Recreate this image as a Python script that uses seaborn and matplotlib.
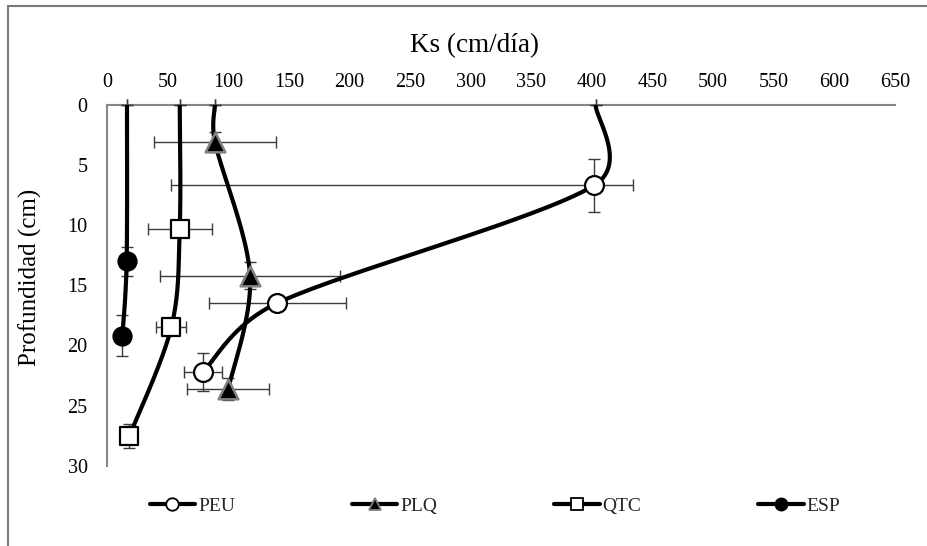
import numpy as np
import matplotlib
matplotlib.use("Agg")
import matplotlib.pyplot as plt
from matplotlib.lines import Line2D
from matplotlib.patches import Rectangle
import seaborn as sns
import pandas as pd

# Saturated hydraulic conductivity profiles (Ks, cm/day) by depth (cm)
peu_depth = [0.0, 6.7, 16.5, 22.2]
peu_ks = [403.0, 402.0, 140.0, 79.0]
peu_ks_err_lo = [0.0, 349.0, 56.0, 15.5]
peu_ks_err_hi = [0.0, 32.0, 57.0, 15.5]
peu_depth_err = [0.0, 2.2, 0.0, 1.6]

plq_depth = [0.0, 3.1, 14.2, 23.6]
plq_ks = [89.0, 89.0, 118.0, 100.0]
plq_ks_err = [0.0, 50.5, 74.5, 34.0]
plq_depth_err = [0.0, 0.85, 1.15, 0.9]

qtc_depth = [0.0, 10.3, 18.5, 27.5]
qtc_ks = [60.0, 60.0, 53.0, 18.5]
qtc_ks_err = [0.0, 26.5, 12.5, 0.0]
qtc_depth_err = [0.0, 0.0, 0.0, 1.0]

esp_depth = [0.0, 13.0, 19.2]
esp_ks = [16.5, 16.2, 12.7]
esp_ks_err = [0.0, 0.0, 0.0]
esp_depth_err = [0.0, 1.2, 1.7]

x_ticks = list(range(0, 651, 50))
y_ticks = list(range(0, 31, 5))

sns.set_theme(style="white")
plt.rcParams["font.family"] = ["Liberation Serif", "DejaVu Serif"]

fig = plt.figure(figsize=(9.27, 5.46), dpi=100)
ax = fig.add_axes([107 / 927, 1 - 466 / 546, 788 / 927, 361.5 / 546])

# pixel-per-unit factors so the smoothing works in screen space
SX = 788 / 650
SY = 361.5 / 30


def smooth(xs, ys, n=60):
    """Cubic Bezier smoothing: handles (P[i+1]-P[i-1])/6, capped at half the segment."""
    P = np.column_stack([np.asarray(xs) * SX, np.asarray(ys) * SY])
    m = len(P)
    out = []
    t = np.linspace(0, 1, n)[:, None]
    for i in range(m - 1):
        p0 = P[max(i - 1, 0)]
        p1, p2 = P[i], P[i + 1]
        p3 = P[min(i + 2, m - 1)]
        half = np.linalg.norm(p2 - p1) / 2
        h1 = (p2 - p0) / 6
        h2 = (p3 - p1) / 6
        for h in (h1, h2):
            L = np.linalg.norm(h)
            if L > half:
                h *= half / L
        c1 = p1 + h1
        c2 = p2 - h2
        seg = ((1 - t) ** 3) * p1 + 3 * ((1 - t) ** 2) * t * c1 + 3 * (1 - t) * t ** 2 * c2 + t ** 3 * p2
        out.append(seg if i == 0 else seg[1:])
    pts = np.vstack(out)
    return pts[:, 0] / SX, pts[:, 1] / SY


err_kw = dict(fmt="none", ecolor="#3c3c3c", elinewidth=1.0, capsize=4.3, capthick=1.0,
              zorder=2.7, clip_on=False)

series = [
    ("PEU", peu_ks, peu_depth, [peu_ks_err_lo, peu_ks_err_hi], peu_depth_err,
     dict(marker="o", facecolor="white", edgecolor="black", s=185, linewidth=1.6)),
    ("PLQ", plq_ks, plq_depth, plq_ks_err, plq_depth_err,
     dict(marker="^", facecolor="black", edgecolor="#808080", s=200, linewidth=1.8)),
    ("QTC", qtc_ks, qtc_depth, qtc_ks_err, qtc_depth_err,
     dict(marker="s", facecolor="white", edgecolor="black", s=175, linewidth=1.6)),
    ("ESP", esp_ks, esp_depth, esp_ks_err, esp_depth_err,
     dict(marker="o", facecolor="black", edgecolor="black", s=185, linewidth=1.0)),
]

for name, ks, depth, kerr, derr, mk in series:
    ax.errorbar(ks, depth, xerr=kerr, yerr=derr, **err_kw)
    sx_, sy_ = smooth(ks, depth)
    ax.plot(sx_, sy_, color="black", lw=3.0, zorder=3, solid_capstyle="butt")
    df = pd.DataFrame({"ks": ks[1:], "depth": depth[1:]})
    sns.scatterplot(data=df, x="ks", y="depth", ax=ax, marker=mk["marker"], s=mk["s"],
                    color=mk["facecolor"], edgecolor=mk["edgecolor"], linewidth=mk["linewidth"],
                    zorder=4, legend=False, clip_on=False)

ax.set_xlim(0, 650)
ax.set_ylim(30, 0)
ax.set_xticks(x_ticks)
ax.set_yticks(y_ticks)
ax.xaxis.tick_top()
ax.xaxis.set_label_position("top")
ax.tick_params(axis="both", length=0, labelsize=14.5, colors="black")
ax.tick_params(axis="x", pad=9)
ax.tick_params(axis="y", pad=14)

for side in ["right", "bottom"]:
    ax.spines[side].set_visible(False)
for side in ["top", "left"]:
    ax.spines[side].set_color("#868686")
    ax.spines[side].set_linewidth(1.5)

ax.set_xlabel("Ks (cm/día)", fontsize=19.5, color="black")
ax.xaxis.set_label_coords((475 - 107) / 788, 1 + 52 / 361.5)
ax.set_ylabel("Profundidad (cm)", fontsize=18, color="black")
ax.yaxis.set_label_coords((42 - 107) / 788, 1 - (277 - 104.5) / 361.5)

handles = [
    Line2D([], [], color="black", lw=3, marker="o", markerfacecolor="white",
           markeredgecolor="black", markersize=9, markeredgewidth=1.3),
    Line2D([], [], color="black", lw=3, marker="^", markerfacecolor="black",
           markeredgecolor="#808080", markersize=9, markeredgewidth=1.3),
    Line2D([], [], color="black", lw=3, marker="s", markerfacecolor="white",
           markeredgecolor="black", markersize=8, markeredgewidth=1.3),
    Line2D([], [], color="black", lw=3, marker="o", markerfacecolor="black",
           markeredgecolor="black", markersize=9),
]
fig.legend(handles, ["PEU", "PLQ", "QTC", "ESP"], loc="center", ncol=4,
           bbox_to_anchor=(495 / 927, 1 - 506 / 546), frameon=False, fontsize=14,
           handlelength=2.35, handletextpad=0.15, columnspacing=6.0)

# chart area border
fig.patches.append(Rectangle((8 / 927, -0.02), 1.0, 1 - 6 / 546 + 0.02, transform=fig.transFigure,
                             fill=False, edgecolor="#7a7a7a", linewidth=1.5))

fig.savefig("out.png", dpi=100)
